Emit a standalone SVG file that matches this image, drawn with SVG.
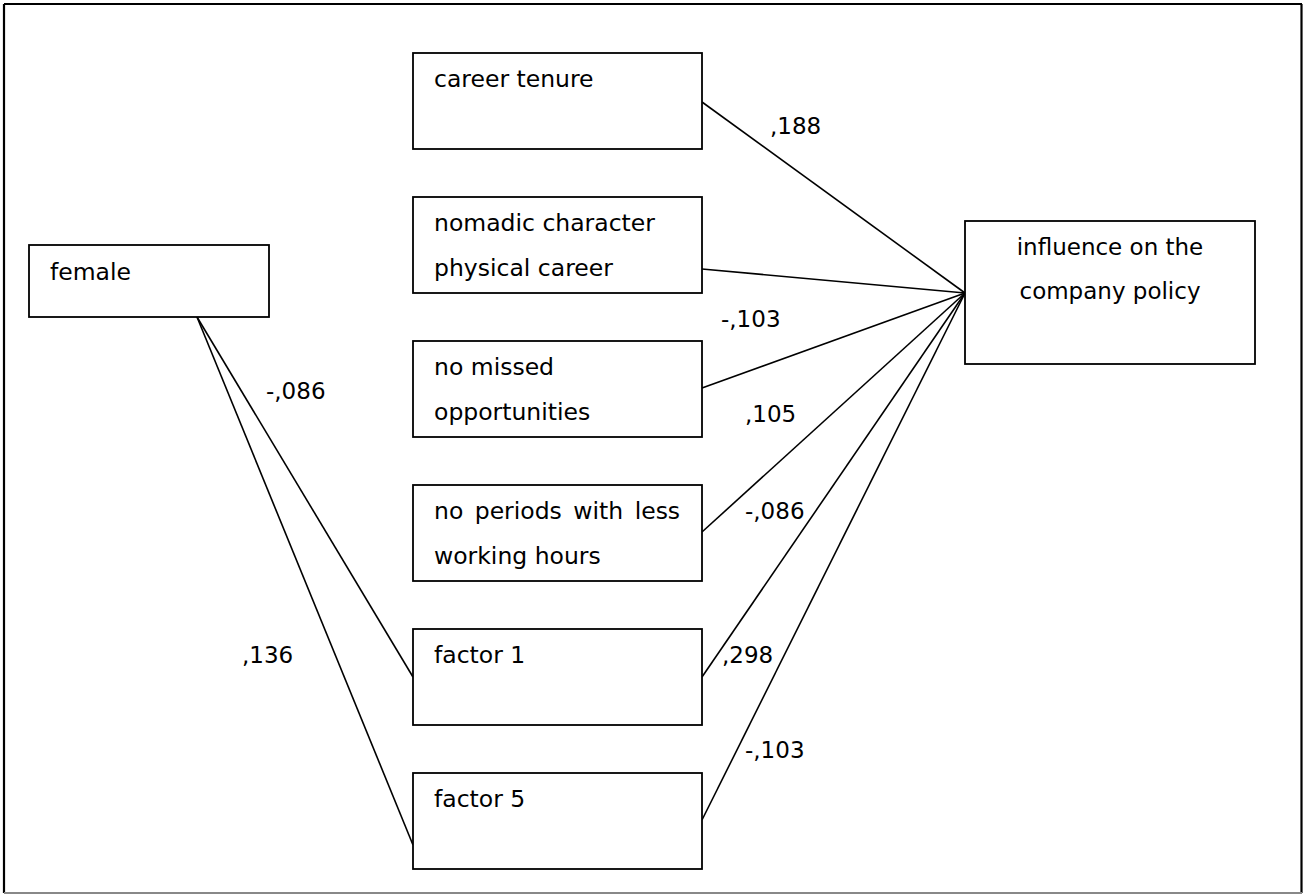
<svg xmlns="http://www.w3.org/2000/svg" width="1303" height="894" viewBox="0 0 1303 894">
<style>
  .box { fill: #ffffff; stroke: #000000; stroke-width: 1.8; }
  .lbl { font-family: "DejaVu Sans", Verdana, sans-serif; font-size: 23.5px; fill: #000000; }
  .num { font-family: "DejaVu Sans", Verdana, sans-serif; font-size: 23px; fill: #000000; }
  .conn line { stroke: #000000; stroke-width: 1.6; }
</style>
<rect x="0" y="0" width="1303" height="894" fill="#ffffff"/>
<g id="frame">
  <line x1="4" y1="4" x2="1302" y2="4" stroke="#000" stroke-width="2.2"/>
  <line x1="4" y1="4" x2="4" y2="893" stroke="#000" stroke-width="2.2"/>
  <line x1="1301.5" y1="4" x2="1301.5" y2="893" stroke="#000" stroke-width="2.2"/>
  <line x1="4" y1="893" x2="1302" y2="893" stroke="#888" stroke-width="2"/>
</g>
<g id="connectors" class="conn">
  <line x1="702" y1="102" x2="965" y2="293"/>
  <line x1="702" y1="269" x2="965" y2="293"/>
  <line x1="702" y1="388" x2="965" y2="293"/>
  <line x1="702" y1="532" x2="965" y2="293"/>
  <line x1="702" y1="677" x2="965" y2="293"/>
  <line x1="702" y1="820" x2="965" y2="293"/>
  <line x1="197" y1="317" x2="413" y2="677"/>
  <line x1="197" y1="317" x2="413" y2="845"/>
</g>
<g id="node-female">
  <rect class="box" x="29" y="245" width="240" height="72"/>
  <text class="lbl" x="50" y="280">female</text>
</g>
<g id="node-career-tenure">
  <rect class="box" x="413" y="53" width="289" height="96"/>
  <text class="lbl" x="434" y="87">career tenure</text>
</g>
<g id="node-nomadic">
  <rect class="box" x="413" y="197" width="289" height="96"/>
  <text class="lbl" x="434" y="231">nomadic character</text>
  <text class="lbl" x="434" y="276">physical career</text>
</g>
<g id="node-no-missed">
  <rect class="box" x="413" y="341" width="289" height="96"/>
  <text class="lbl" x="434" y="375">no missed</text>
  <text class="lbl" x="434" y="420">opportunities</text>
</g>
<g id="node-no-periods">
  <rect class="box" x="413" y="485" width="289" height="96"/>
  <text class="lbl" x="434" y="519" word-spacing="4">no periods with less</text>
  <text class="lbl" x="434" y="564">working hours</text>
</g>
<g id="node-factor1">
  <rect class="box" x="413" y="629" width="289" height="96"/>
  <text class="lbl" x="434" y="663">factor 1</text>
</g>
<g id="node-factor5">
  <rect class="box" x="413" y="773" width="289" height="96"/>
  <text class="lbl" x="434" y="807">factor 5</text>
</g>
<g id="node-influence">
  <rect class="box" x="965" y="221" width="290" height="143"/>
  <text class="num" x="1110" y="255" text-anchor="middle">influence on the</text>
  <text class="num" x="1110" y="299" text-anchor="middle">company policy</text>
</g>
<g id="labels">
  <text class="num" x="770" y="134">,188</text>
  <text class="num" x="721" y="327">-,103</text>
  <text class="num" x="745" y="422">,105</text>
  <text class="num" x="745" y="519">-,086</text>
  <text class="num" x="722" y="663">,298</text>
  <text class="num" x="745" y="758">-,103</text>
  <text class="num" x="266" y="399">-,086</text>
  <text class="num" x="242" y="663">,136</text>
</g>
</svg>
